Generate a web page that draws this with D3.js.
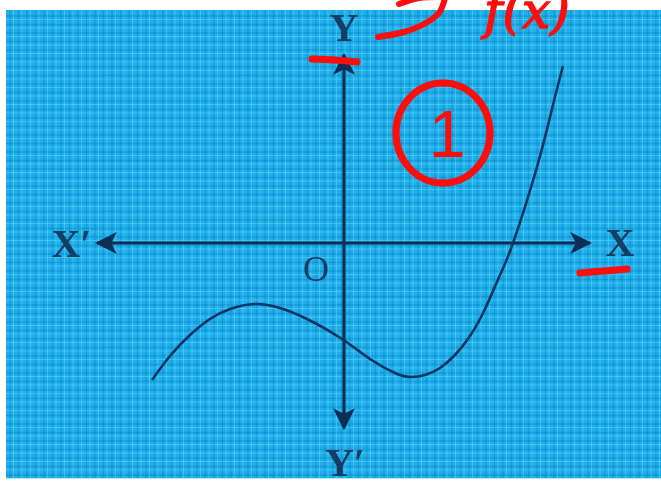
<!DOCTYPE html>
<html><head><meta charset="utf-8">
<script src="https://cdn.jsdelivr.net/npm/d3@7"></script>
<style>html,body{margin:0;padding:0;background:#fff;overflow:hidden}</style>
</head><body>
<svg id="c" width="661" height="484"></svg>
<script>
// ---- data (in graph units) ----
const curveX = [-3.84,-3.48,-3.08,-2.68,-2.28,-1.78,-1.28,-0.74,-0.04,0.52,1.02,1.32,1.62,1.92,2.22,2.52,2.82,3.12,3.38,3.86,4.18,4.38];
const curveY = [-2.74,-2.26,-1.84,-1.52,-1.32,-1.22,-1.30,-1.52,-1.92,-2.32,-2.60,-2.68,-2.64,-2.50,-2.24,-1.86,-1.32,-0.64,0.00,1.52,2.76,3.54];
const xAxisExtent = [-4.94, 4.92];
const yAxisExtent = [-3.70, 3.76];
const axisLabels = ["X\u2032", "X", "Y", "Y\u2032", "O"];
const noteText = "f(x)";
const circleNote = "1";

const x = d3.scaleLinear().domain([-6.76, 6.34]).range([6, 661]);
const y = d3.scaleLinear().domain([4.66, -4.7]).range([10, 478]);

const svg = d3.select("#c");
const defs = svg.append("defs");
defs.append("filter").attr("id","blur").append("feGaussianBlur").attr("stdDeviation",0.75);
defs.append("filter").attr("id","blur2").append("feGaussianBlur").attr("stdDeviation",0.4);

const g = svg.append("g").attr("filter","url(#blur)");
g.append("rect").attr("x", x(-6.76)).attr("y", y(4.66))
  .attr("width", x(6.34)-x(-6.76)).attr("height", y(-4.7)-y(4.66)).attr("fill","#1fb0ea");
const step = 0.17;
const gx = d3.range(-6.76+0.08, 6.34, step), gy = d3.range(-4.7+0.06, 4.66, step);
function grid(dx, col, w, op){
  g.append("g").selectAll("line").data(gx).join("line")
    .attr("x1", d=>x(d)+dx).attr("x2", d=>x(d)+dx).attr("y1", y(4.66)).attr("y2", y(-4.7))
    .attr("stroke", col).attr("stroke-width", w).attr("opacity", op);
  g.append("g").selectAll("line").data(gy).join("line")
    .attr("y1", d=>y(d)+dx).attr("y2", d=>y(d)+dx).attr("x1", x(-6.76)).attr("x2", x(6.34))
    .attr("stroke", col).attr("stroke-width", w).attr("opacity", op);
}
grid(0, "#1290cf", 1.3, 0.8);
grid(3.5, "#62d2f7", 1, 0.5);

const ink = "#0c2f55";
defs.append("marker").attr("id","arr").attr("viewBox","0 0 10 10").attr("refX",9).attr("refY",5)
  .attr("markerWidth",22).attr("markerHeight",22).attr("markerUnits","userSpaceOnUse")
  .attr("orient","auto-start-reverse")
  .append("path").attr("d","M0,0 L10,5 L0,10 L2.5,5 Z").attr("fill",ink);

g.append("line").attr("x1", x(xAxisExtent[0])).attr("x2", x(xAxisExtent[1]))
  .attr("y1", y(0)).attr("y2", y(0)).attr("stroke", ink).attr("stroke-width", 3.2)
  .attr("marker-start","url(#arr)").attr("marker-end","url(#arr)");
g.append("line").attr("x1", x(0)).attr("x2", x(0))
  .attr("y1", y(yAxisExtent[1])).attr("y2", y(yAxisExtent[0])).attr("stroke", ink).attr("stroke-width", 3.2)
  .attr("marker-start","url(#arr)").attr("marker-end","url(#arr)");

const pts = curveX.map((d,i)=>[d, curveY[i]]);
g.append("path").datum(pts)
  .attr("d", d3.line().x(d=>x(d[0])).y(d=>y(d[1])).curve(d3.curveNatural))
  .attr("fill","none").attr("stroke","#0f3563").attr("stroke-width",2.6);

const font = "'Liberation Serif','DejaVu Serif',serif";
const lab = [
  {t:axisLabels[0], px:x(-5.45), py:y(-0.28)},
  {t:axisLabels[1], px:x(5.52), py:y(-0.26)},
  {t:axisLabels[2], px:x(0), py:y(4.05)},
  {t:axisLabels[3], px:x(0.02), py:y(-4.66)},
];
g.selectAll("text.ax").data(lab).join("text").attr("class","ax")
  .attr("x", d=>d.px).attr("y", d=>d.py).attr("text-anchor","middle")
  .attr("font-family", font).attr("font-weight","bold").attr("font-size", 40)
  .attr("fill", "#123c63").text(d=>d.t);
g.append("text").attr("x", x(-0.56)).attr("y", y(-0.76)).attr("text-anchor","middle")
  .attr("font-family", font).attr("font-size", 36).attr("fill","#123c63").text(axisLabels[4]);

// red handwritten notes
const red = "#ff0a0a";
const r = svg.append("g").attr("filter","url(#blur2)").attr("stroke-linecap","round").attr("fill","none");
const lineGen = d3.line().x(d=>x(d[0])).y(d=>y(d[1])).curve(d3.curveCatmullRom);
r.append("path").attr("d", lineGen([[-0.64,3.68],[-0.2,3.66],[0.26,3.62]])).attr("stroke",red).attr("stroke-width",7);
r.append("path").attr("d", lineGen([[4.72,-0.6],[5.2,-0.56],[5.66,-0.52]])).attr("stroke",red).attr("stroke-width",7);
r.append("path").attr("d", lineGen([[0.68,4.12],[1.2,4.22],[1.6,4.38],[1.9,4.6],[2.02,4.9]]))
  .attr("stroke",red).attr("stroke-width",6);
r.append("path").attr("d", lineGen([[1.1,4.78],[1.5,4.9],[1.95,4.92]])).attr("stroke",red).attr("stroke-width",6);
r.append("ellipse").attr("cx", x(1.98)).attr("cy", y(2.2)).attr("rx", 47).attr("ry", 50)
  .attr("stroke", red).attr("stroke-width", 7);
r.append("text").attr("x", x(2.06)).attr("y", y(1.72)).attr("text-anchor","middle")
  .attr("font-family","'Liberation Sans',sans-serif").attr("font-size",66)
  .attr("fill",red).attr("stroke","none").text(circleNote);
r.append("text").attr("x", x(2.8)).attr("y", y(4.3)).attr("text-anchor","start")
  .attr("font-family","'DejaVu Serif',serif").attr("font-style","italic").attr("font-size",50)
  .attr("fill",red).attr("stroke",red).attr("stroke-width",1.5).text(noteText);
</script>
</body></html>
